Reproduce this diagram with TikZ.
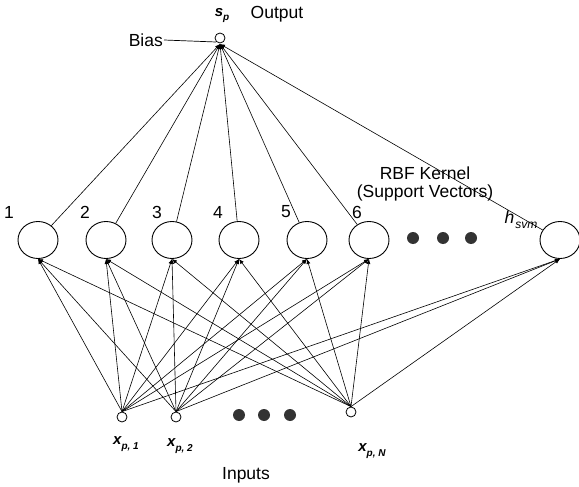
\documentclass[tikz,border=0pt]{standalone}
\usepackage{fontspec}
\setmainfont{Liberation Sans}
\usetikzlibrary{arrows.meta,shapes.geometric}
\begin{document}
\begin{tikzpicture}[x=1pt,y=-1pt,
  hid/.style={draw,ellipse,minimum width=40pt,minimum height=37pt,inner sep=0pt,line width=0.9pt},
  inp/.style={draw,circle,minimum size=10pt,inner sep=0pt,line width=0.8pt,fill=white},
  dotn/.style={circle,fill=black!80,minimum size=12pt,inner sep=0pt},
  conn/.style={line width=0.6pt,-{Latex[length=5pt,width=4pt]}},
  lbl/.style={font=\fontsize{17.5}{20}\selectfont},
  sub/.style={font=\bfseries\itshape\fontsize{15}{17}\selectfont}
]
\useasboundingbox (0,0) rectangle (579,487);
% output
\node[inp] (out) at (220,38) {};
\coordinate (outb) at (220,44);
\node[sub] (sp) at (222,16) {s\raisebox{-4pt}{\fontsize{10}{11}\selectfont p}};
\node[lbl] (outl) at (277,14) {Output};
\node[lbl,anchor=east,inner sep=1pt] (bias) at (164,40) {Bias};
\coordinate (biasend) at (216,42);
\draw[line width=0.7pt] (bias.east) -- (biasend);
% hidden
\foreach \n/\x in {1/38,2/106,3/172,4/239,5/307,6/369,h/560}{
  \node[hid] (h\n) at (\x,240) {};
}
\node[lbl] (l1) at (9,212) {1};
\node[lbl] (l2) at (85,212) {2};
\node[lbl] (l3) at (157,212) {3};
\node[lbl] (l4) at (218,212) {4};
\node[lbl] (l5) at (286,212) {5};
\node[lbl] (l6) at (357,212) {6};
\node[lbl] (lh) at (521,220) {\itshape h\raisebox{-5pt}{\fontsize{12}{13}\selectfont\hspace{1pt}svm}};
\node[lbl] (rbf) at (425,173) {RBF Kernel};
\node[lbl] (sv) at (425,193) {(Support Vectors)};
\node[dotn] (d1) at (413,238) {};
\node[dotn] (d2) at (443,238) {};
\node[dotn] (d3) at (471,238) {};
% output connections
\foreach \n in {1,2,3,4,5,6,h}{
  \draw[conn] (h\n) -- (outb);
}
% inputs
\node[inp] (x1) at (122,417) {};
\node[inp] (x2) at (176,417) {};
\node[inp] (xN) at (351,412) {};
\node[dotn] (e1) at (239,415) {};
\node[dotn] (e2) at (264,415) {};
\node[dotn] (e3) at (290,415) {};
\foreach \i in {x1,x2,xN}{
  \foreach \n in {1,2,3,4,5,6,h}{
    \draw[conn] (\i.north) -- (h\n.south);
  }
}
\node[sub] (lx1) at (126,444) {x\raisebox{-5pt}{\fontsize{10}{11}\selectfont p, 1}};
\node[sub] (lx2) at (180,446) {x\raisebox{-5pt}{\fontsize{10}{11}\selectfont p, 2}};
\node[sub] (lxN) at (372,451) {x\raisebox{-5pt}{\fontsize{10}{11}\selectfont p, N}};
\node[lbl] (inl) at (246,475) {Inputs};
\end{tikzpicture}
\end{document}
